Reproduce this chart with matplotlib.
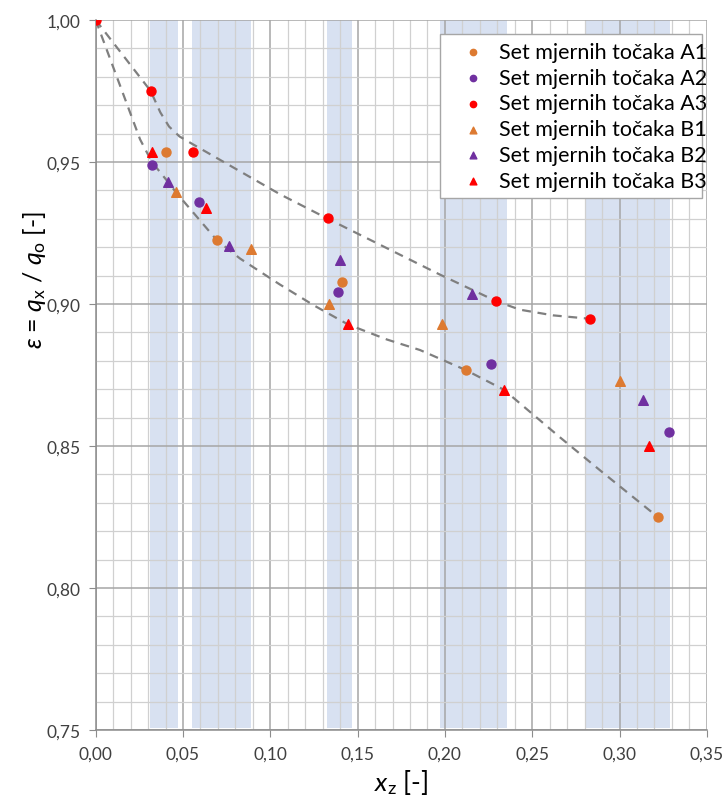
import matplotlib
matplotlib.use('Agg')
import matplotlib.pyplot as plt
from matplotlib.ticker import MultipleLocator, FuncFormatter

plt.rcParams['font.family'] = ['Lato', 'DejaVu Sans']
plt.rcParams['mathtext.fontset'] = 'custom'
plt.rcParams['mathtext.rm'] = 'Lato'
plt.rcParams['mathtext.it'] = 'Lato:italic'

# measured series
a1_x = [0.0403, 0.0695, 0.1411, 0.2121, 0.3219]
a1_y = [0.9534, 0.9224, 0.9077, 0.8767, 0.8250]
a2_x = [0.0322, 0.0592, 0.1386, 0.2266, 0.3282]
a2_y = [0.9489, 0.9358, 0.9044, 0.8789, 0.8548]
a3_x = [0.0, 0.0315, 0.0558, 0.1332, 0.2294, 0.2831]
a3_y = [1.000, 0.9750, 0.9534, 0.9302, 0.9010, 0.8948]
b1_x = [0.0461, 0.0890, 0.1334, 0.1982, 0.3001]
b1_y = [0.9393, 0.9192, 0.9000, 0.8930, 0.8730]
b2_x = [0.0415, 0.0764, 0.1399, 0.2153, 0.3133]
b2_y = [0.9429, 0.9206, 0.9155, 0.9036, 0.8663]
b3_x = [0.0322, 0.0632, 0.1443, 0.2338, 0.3167]
b3_y = [0.9534, 0.9337, 0.8930, 0.8698, 0.8500]

# dashed envelope curves
upper_x = [0.0, 0.0315, 0.037, 0.042, 0.048, 0.0558, 0.1057, 0.133, 0.197, 0.2294, 0.243, 0.262, 0.2831]
upper_y = [1.0, 0.975, 0.9675, 0.9625, 0.959, 0.9562, 0.9386, 0.930, 0.9104, 0.901, 0.898, 0.896, 0.8948]
lower_x = [0.0, 0.0254, 0.0322, 0.0414, 0.046, 0.0695, 0.0827, 0.1054, 0.125, 0.1445,
           0.1668, 0.1857, 0.2121, 0.2338, 0.266, 0.2905, 0.3219]
lower_y = [1.0, 0.958, 0.950, 0.943, 0.9393, 0.9224, 0.9160, 0.9069, 0.8995, 0.8928,
           0.8875, 0.8838, 0.8767, 0.8698, 0.853, 0.8406, 0.825]

# shaded x-ranges
bands = [(0.0309, 0.0474), (0.0554, 0.0891), (0.1326, 0.1469), (0.1971, 0.2354), (0.2806, 0.3291)]

orange = '#dd7a31'
purple = '#7030a0'
red = '#ff0000'

fig = plt.figure(figsize=(7.26, 8.03), dpi=100)
ax = fig.add_axes([0.1318, 0.0897, 0.8418, 0.8841])

for lo, hi in bands:
    ax.axvspan(lo, hi, ymin=0.003, ymax=1, color='#d8e1f1', lw=0, zorder=0.2)

ax.plot(upper_x, upper_y, ls=(0, (4, 3)), color='#7f7f7f', lw=1.6, zorder=2)
ax.plot(lower_x, lower_y, ls=(0, (4, 3)), color='#7f7f7f', lw=1.6, zorder=2)

ms = 42
ax.scatter(a1_x, a1_y, s=ms, color=orange, marker='o', label='Set mjernih točaka A1', zorder=3)
ax.scatter(a2_x, a2_y, s=ms, color=purple, marker='o', label='Set mjernih točaka A2', zorder=3)
ax.scatter(a3_x, a3_y, s=ms, color=red, marker='o', label='Set mjernih točaka A3', zorder=3)
ax.scatter(b1_x, b1_y, s=48, color=orange, marker='^', label='Set mjernih točaka B1', zorder=3)
ax.scatter(b2_x, b2_y, s=48, color=purple, marker='^', label='Set mjernih točaka B2', zorder=3)
ax.scatter(b3_x, b3_y, s=48, color=red, marker='^', label='Set mjernih točaka B3', zorder=3)

ax.set_xlim(0, 0.35)
ax.set_ylim(0.75, 1.0)
ax.xaxis.set_major_locator(MultipleLocator(0.05))
ax.xaxis.set_minor_locator(MultipleLocator(0.01))
ax.yaxis.set_major_locator(MultipleLocator(0.05))
ax.yaxis.set_minor_locator(MultipleLocator(0.01))
fmt = FuncFormatter(lambda v, p: ('%.2f' % v).replace('.', ','))
ax.xaxis.set_major_formatter(fmt)
ax.yaxis.set_major_formatter(fmt)

ax.set_axisbelow(True)
ax.grid(which='major', color='#a6a6a6', lw=1.1)
ax.grid(which='minor', color='#d0d0d0', lw=0.9)
ax.tick_params(which='major', direction='out', length=5, color='#8c8c8c',
               labelsize=12.5, labelcolor='#404040', pad=6)
ax.tick_params(which='minor', length=0)
for side in ['top', 'right']:
    ax.spines[side].set_visible(False)
for side in ['left', 'bottom']:
    ax.spines[side].set_color('#8c8c8c')
    ax.spines[side].set_linewidth(1.1)

ax.set_xlabel(r'$x_\mathregular{z}$ [-]', fontsize=19, labelpad=4)
ax.set_ylabel(r'$\varepsilon$ = $q_\mathregular{x}$ / $q_\mathregular{o}$ [-]', fontsize=18)
ax.yaxis.set_label_coords(-0.078, 0.635)

leg = ax.legend(loc='upper left', bbox_to_anchor=(0.5635, 0.748, 0.4285, 0.232), mode='expand',
                fontsize=15.5, frameon=True, fancybox=False, edgecolor='#a6a6a6', framealpha=1,
                handletextpad=0.0, borderpad=0.35, labelspacing=0.27, markerscale=0.7,
                handlelength=2.4, borderaxespad=0)
leg.get_frame().set_linewidth(1.0)

fig.savefig('out.png', dpi=100)
